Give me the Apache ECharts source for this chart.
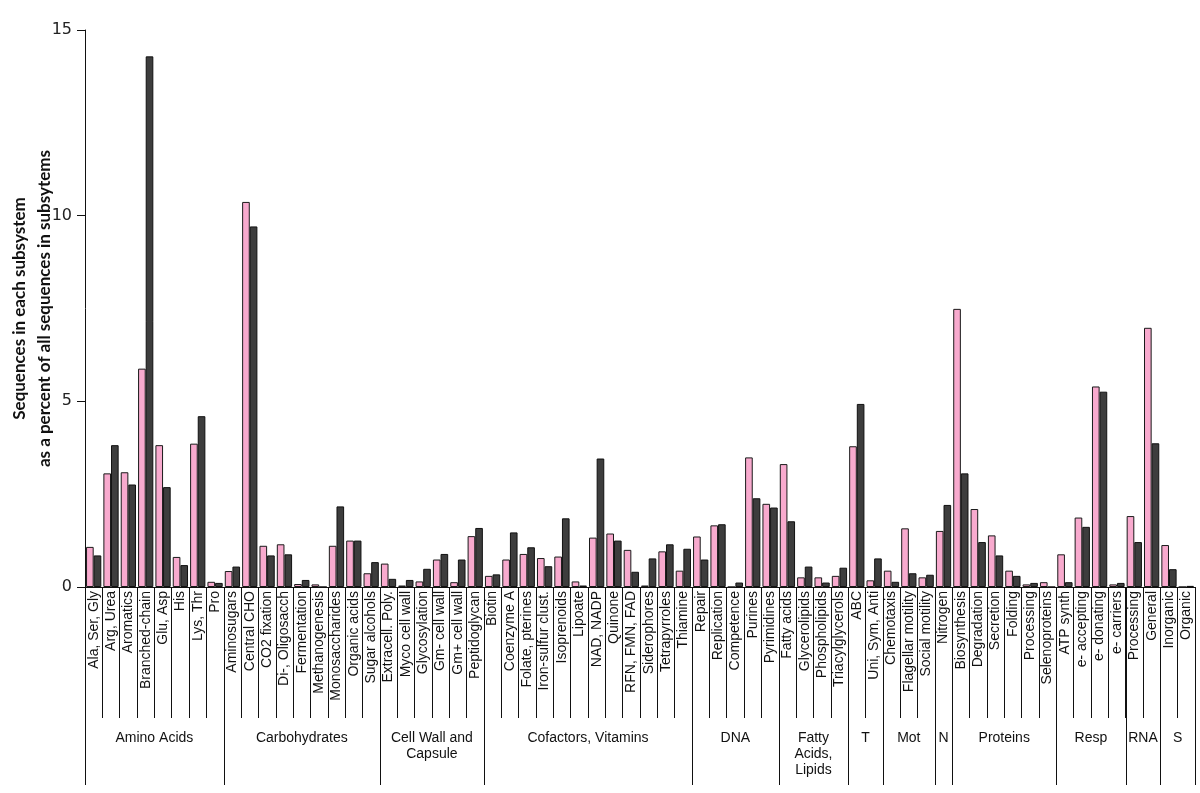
<!DOCTYPE html>
<html>
<head>
<meta charset="utf-8">
<script src="https://cdn.jsdelivr.net/npm/echarts@6/dist/echarts.min.js"></script>
<style>
html,body{margin:0;padding:0;background:#fff;}
#main{width:1200px;height:793px;}
</style>
</head>
<body>
<div id="main"></div>
<script>
// ---- data ----
const categories = [
  'Ala, Ser, Gly','Arg, Urea','Aromatics','Branched-chain','Glu, Asp','His','Lys, Thr','Pro',
  'Aminosugars','Central CHO','CO2 fixation','Di-, Oligosacch','Fermentation','Methanogenesis','Monosaccharides','Organic acids','Sugar alcohols',
  'Extracell. Poly.','Myco cell wall','Glycosylation','Gm- cell wall','Gm+ cell wall','Peptidoglycan',
  'Biotin','Coenzyme A','Folate, pterines','Iron-sulfur clust.','Isoprenoids','Lipoate','NAD, NADP','Quinone','RFN, FMN, FAD','Siderophores','Tetrapyrroles','Thiamine',
  'Repair','Replication','Competence','Purines','Pyrimidines',
  'Fatty acids','Glycerolipids','Phospholipids','Triacylglycerols',
  'ABC','Uni, Sym, Anti',
  'Chemotaxis','Flagellar motility','Social motility',
  'Nitrogen',
  'Biosynthesis','Degradation','Secretion','Folding','Processing','Selenoproteins',
  'ATP synth','e- accepting','e- donating','e- carriers',
  'Processing','General',
  'Inorganic','Organic'
];
const pinkValues = [
  1.08,3.06,3.09,5.88,3.82,0.81,3.86,0.14,
  0.43,10.37,1.11,1.15,0.08,0.07,1.11,1.25,0.37,
  0.63,0.04,0.15,0.74,0.13,1.37,
  0.30,0.74,0.89,0.78,0.82,0.15,1.33,1.44,1.00,0.04,0.96,0.44,
  1.36,1.66,0.00,3.49,2.24,
  3.31,0.26,0.26,0.30,
  3.79,0.18,
  0.44,1.58,0.26,
  1.51,
  7.49,2.10,1.39,0.44,0.07,0.13,
  0.88,1.87,5.40,0.07,
  1.91,6.98,
  1.13,0.00
];
const darkValues = [
  0.85,3.82,2.76,14.29,2.69,0.59,4.60,0.11,
  0.55,9.71,0.85,0.88,0.19,0.00,2.17,1.25,0.67,
  0.22,0.19,0.49,0.89,0.74,1.59,
  0.34,1.47,1.07,0.56,1.85,0.04,3.46,1.25,0.41,0.77,1.15,1.03,
  0.74,1.69,0.12,2.39,2.14,
  1.77,0.55,0.12,0.52,
  4.93,0.77,
  0.14,0.37,0.33,
  2.21,
  3.06,1.21,0.85,0.30,0.11,0.00,
  0.13,1.62,5.26,0.11,
  1.21,3.87,
  0.48,0.03
];
const groupNames = ['Amino Acids','Carbohydrates','Cell Wall and\nCapsule','Cofactors, Vitamins','DNA','Fatty\nAcids,\nLipids','T','Mot','N','Proteins','Resp','RNA','S'];
const groupSizes = [8,9,6,12,5,4,2,3,1,6,4,2,2];
const yTicks = [0, 5, 10, 15];

// ---- chart ----
const chart = echarts.init(document.getElementById('main'));
const option = {
  animation: false,
  backgroundColor: '#ffffff',
  grid: { left: 85, right: 5, top: 30, bottom: 206, containLabel: false, outerBoundsMode: 'none' },
  xAxis: {
    type: 'category',
    data: categories,
    axisLine: { show: true, lineStyle: { color: '#111', width: 1 } },
    axisTick: { show: true, length: 131, interval: 0, lineStyle: { color: '#111', width: 1 } },
    axisLabel: {
      interval: 0, rotate: 90, margin: 4,
      fontFamily: 'Liberation Sans, Arial, sans-serif', fontSize: 14, color: '#111'
    },
    splitLine: { show: false }
  },
  yAxis: {
    type: 'value',
    min: yTicks[0], max: yTicks[yTicks.length - 1], interval: 5,
    axisLine: { show: true, lineStyle: { color: '#111', width: 1 } },
    axisTick: { show: true, length: 8, lineStyle: { color: '#111' } },
    axisLabel: { margin: 13, fontFamily: 'DejaVu Sans', fontSize: 16, color: '#222' },
    splitLine: { show: false },
    name: 'Sequences in each subsystem\nas a percent of all sequences in subsytems',
    nameLocation: 'middle',
    nameMoveOverlap: false,
    nameGap: 28,
    nameTextStyle: { fontFamily: 'Lato', fontWeight: 'bold', fontSize: 17, color: '#111', lineHeight: 25 }
  },
  series: [
    {
      type: 'bar', data: pinkValues, barGap: '0%', barCategoryGap: '12%',
      itemStyle: { color: '#F8AACE', borderColor: '#1a1a1a', borderWidth: 1 }
    },
    {
      type: 'bar', data: darkValues, barGap: '0%', barCategoryGap: '12%',
      itemStyle: { color: '#3d3d3d', borderColor: '#111', borderWidth: 1 }
    }
  ]
};
chart.setOption(option);

function drawGroups() {
  const y0 = chart.convertToPixel({ yAxisIndex: 0 }, 0);
  const c0 = chart.convertToPixel({ xAxisIndex: 0 }, 0);
  const c1 = chart.convertToPixel({ xAxisIndex: 0 }, 1);
  const bw = c1 - c0;
  const edge = k => chart.convertToPixel({ xAxisIndex: 0 }, Math.min(k, categories.length - 1)) + (k >= categories.length ? bw / 2 : -bw / 2);
  const els = [];
  let k = 0;
  const boundaries = [0];
  groupSizes.forEach(s => { k += s; boundaries.push(k); });
  boundaries.forEach(b => {
    const x = Math.round(edge(b)) + 0.5;
    els.push({ type: 'line', shape: { x1: x, y1: y0, x2: x, y2: y0 + 198 }, style: { stroke: '#111', lineWidth: 1 }, silent: true });
  });
  groupNames.forEach((g, i) => {
    const xl = edge(boundaries[i]), xr = edge(boundaries[i + 1]);
    els.push({
      type: 'text', silent: true,
      style: {
        text: g, x: (xl + xr) / 2, y: y0 + 143,
        align: 'center', verticalAlign: 'top',
        fontFamily: 'Liberation Sans, Arial, sans-serif', fontSize: 14, lineHeight: 16, fill: '#111'
      }
    });
  });
  chart.setOption({ graphic: els });
}
drawGroups();
</script>
</body>
</html>
